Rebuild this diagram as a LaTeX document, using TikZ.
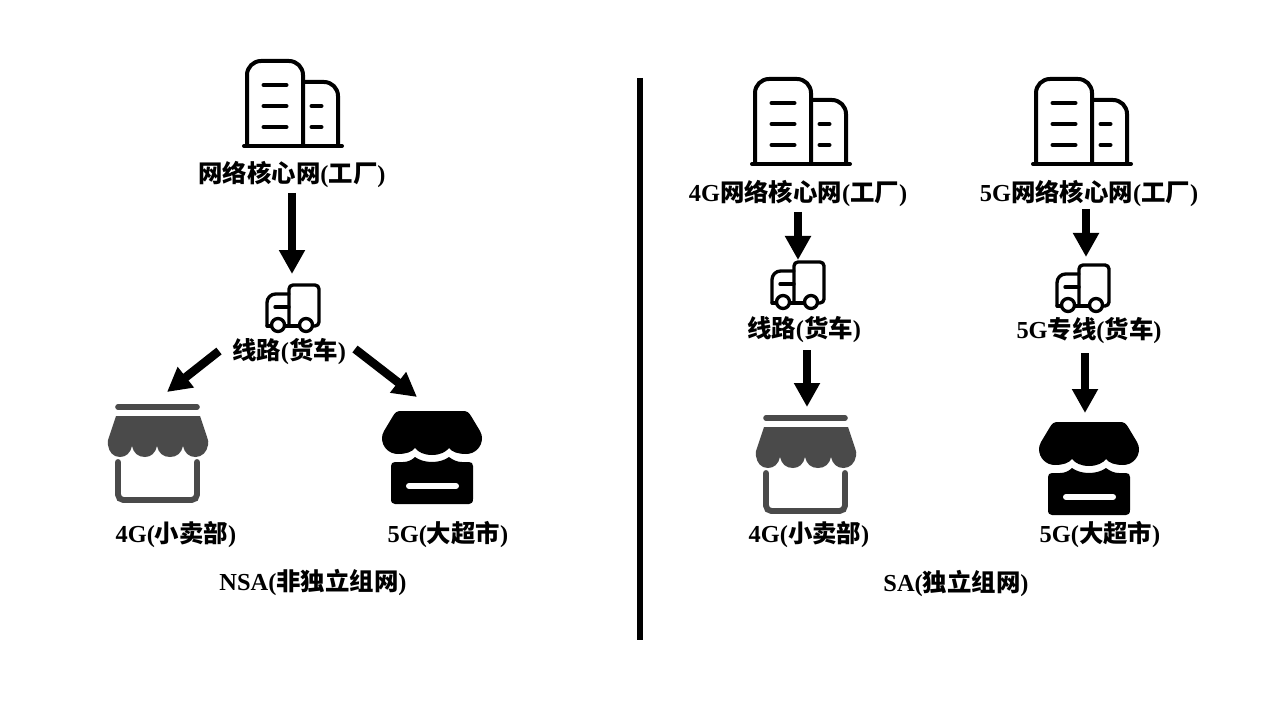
\documentclass[tikz,border=0pt]{standalone}
\usepackage{fontspec}
\usetikzlibrary{arrows.meta}
\setmainfont{Liberation Serif}
\newfontfamily\cjk{Noto Sans CJK SC}
\newcommand{\zh}[1]{{\cjk\bfseries #1}}
\definecolor{shopgrey}{HTML}{4A4A4A}
\tikzset{
  lbl/.style={inner sep=0pt,font=\fontsize{18.3pt}{20pt}\selectfont\bfseries,text=black},
  bigarrow/.style={line width=6.4pt,-{Triangle[length=18pt,width=18.5pt]},black},
  icon/.style={line width=3pt,line cap=round,line join=round,black},
  building/.pic={
    \draw[icon,rounded corners=10.5pt] (247,146) -- (247,61) -- (303,61) -- (303,146);
    \draw[icon,rounded corners=10.5pt] (303,82) -- (338,82) -- (338,146);
    \draw[icon] (244,146) -- (342,146);
    \foreach \yy in {85,106,127} {\draw[icon] (263.5,\yy) -- (286.5,\yy);}
    \foreach \yy in {106,127} {\draw[icon] (311.5,\yy) -- (321.5,\yy);}
  },
  truck/.pic={
    \draw[icon,line width=2.5pt,rounded corners=3pt] (312,326) -- (319,326) -- (319,285) -- (289,285) -- (289,326);
    \draw[icon,line width=2.5pt,rounded corners=6.5pt] (289,294) -- (267,294) -- (267,326);
    \draw[icon,line width=2.5pt] (267,326) -- (272,326);
    \draw[icon,line width=2.5pt] (275,307) -- (289,307);
    \draw[icon,line width=2.5pt] (284,326) -- (300,326);
    \draw[icon,line width=2.5pt,fill=white] (278,325) circle[radius=6.5];
    \draw[icon,line width=2.5pt,fill=white] (306,325) circle[radius=6.5];
  },
  shopfour/.pic={
    \draw[shopgrey,line width=4.2pt,line cap=round] (118,407) -- (197,407);
    \fill[shopgrey] (116,416) -- (200,416) -- (207,437)
      .. controls (208.5,441) and (208.5,443) .. (208,445)
      .. controls (207,452) and (202,457) .. (195.5,457)
      .. controls (189,457) and (184.5,453) .. (183,446)
      .. controls (181.5,453) and (177,457) .. (170,457)
      .. controls (163,457) and (158.5,453) .. (157,446)
      .. controls (155.5,453) and (151,457) .. (145,457)
      .. controls (138,457) and (133.5,453) .. (132,446)
      .. controls (130.5,453) and (126,457) .. (120,457)
      .. controls (113,457) and (109,452) .. (108,445)
      .. controls (107.5,443) and (107.5,441) .. (109,437) -- cycle;
    \draw[shopgrey,line width=4.4pt,line cap=round,rounded corners=4pt] (118,462) -- (118,500) -- (197,500) -- (197,462);
  },
  shopfive/.pic={
    \fill[black] (401,411) -- (463,411)
      .. controls (467,411) and (469,412.5) .. (471,416)
      -- (480,431) .. controls (481.5,434) and (482,436) .. (482,438)
      .. controls (482,447) and (475,454) .. (466,454)
      .. controls (458,454) and (452,452) .. (449,448)
      .. controls (446,452) and (440,455) .. (432,455)
      .. controls (424,455) and (418,452) .. (415,448)
      .. controls (412,452) and (406,454) .. (398,454)
      .. controls (389,454) and (382,447) .. (382,438)
      .. controls (382,436) and (382.5,434) .. (384,431)
      -- (393,416) .. controls (395,412.5) and (397,411) .. (401,411) -- cycle;
    \fill[black] (395,462) -- (403,462)
      .. controls (408,462) and (412,460) .. (415,457)
      .. controls (419,460) and (425,462) .. (432,462)
      .. controls (439,462) and (445,460) .. (449,457)
      .. controls (453,460) and (457,462) .. (462,462)
      -- (469,462) .. controls (471.5,462) and (473,463.5) .. (473,466)
      -- (473,499) .. controls (473,502.5) and (471.5,504) .. (469,504)
      -- (395,504) .. controls (392.5,504) and (391,502.5) .. (391,499)
      -- (391,466) .. controls (391,463.5) and (392.5,462) .. (395,462) -- cycle;
    \draw[white,line width=4.5pt,line cap=round] (409,486) -- (456,486);
  },
}
\begin{document}
\begin{tikzpicture}[x=0.75pt,y=-0.75pt]
\useasboundingbox (0,0) rectangle (1280,720);
\fill[white] (0,0) rectangle (1280,720);

\pic (bA) at (0,0) {building};
\pic (bB) at (508,18) {building};
\pic (bC) at (789,18) {building};
\pic (tA) at (0,0) {truck};
\pic (tB) at (505,-23) {truck};
\pic (tC) at (790,-20) {truck};
\pic (sA) at (0,0) {shopfour};
\pic (sB) at (648,11) {shopfour};
\pic (sC) at (0,0) {shopfive};
\pic (sD) at (657,11) {shopfive};

\node[lbl] (coreA) at (292,174) {\zh{网络核心网}(\zh{工厂})};
\node[lbl] (coreB) at (798,193) {4G\zh{网络核心网}(\zh{工厂})};
\node[lbl] (coreC) at (1089,193) {5G\zh{网络核心网}(\zh{工厂})};
\node[lbl] (lineA) at (289,352) {\zh{线路}(\zh{货车})};
\node[lbl] (lineB) at (804,330) {\zh{线路}(\zh{货车})};
\node[lbl] (lineC) at (1089,331) {5G\zh{专线}(\zh{货车})};
\node[lbl] (fourA) at (176,535) {4G(\zh{小卖部})};
\node[lbl] (fiveA) at (448,535) {5G(\zh{大超市})};
\node[lbl] (fourB) at (809,535) {4G(\zh{小卖部})};
\node[lbl] (fiveB) at (1100,535) {5G(\zh{大超市})};
\node[lbl] (capA) at (313,582) {NSA(\zh{非独立组网})};
\node[lbl] (capB) at (956,583) {SA(\zh{独立组网})};

\coordinate (a1) at (292,193); \coordinate (a2) at (292,274);
\coordinate (b1) at (219,351); \coordinate (b2) at (167,392);
\coordinate (c1) at (355,349); \coordinate (c2) at (417,397);
\coordinate (d1) at (798,212); \coordinate (d2) at (798,260);
\coordinate (e1) at (1086,209); \coordinate (e2) at (1086,257);
\coordinate (f1) at (807,350); \coordinate (f2) at (807,407);
\coordinate (g1) at (1085,353); \coordinate (g2) at (1085,413);
\draw[bigarrow] (a1) -- (a2);
\draw[bigarrow] (b1) -- (b2);
\draw[bigarrow] (c1) -- (c2);
\draw[bigarrow] (d1) -- (d2);
\draw[bigarrow] (e1) -- (e2);
\draw[bigarrow] (f1) -- (f2);
\draw[bigarrow] (g1) -- (g2);

\coordinate (divT) at (640,78); \coordinate (divB) at (640,640);
\draw[black,line width=3.9pt] (divT) -- (divB);
\end{tikzpicture}
\end{document}
